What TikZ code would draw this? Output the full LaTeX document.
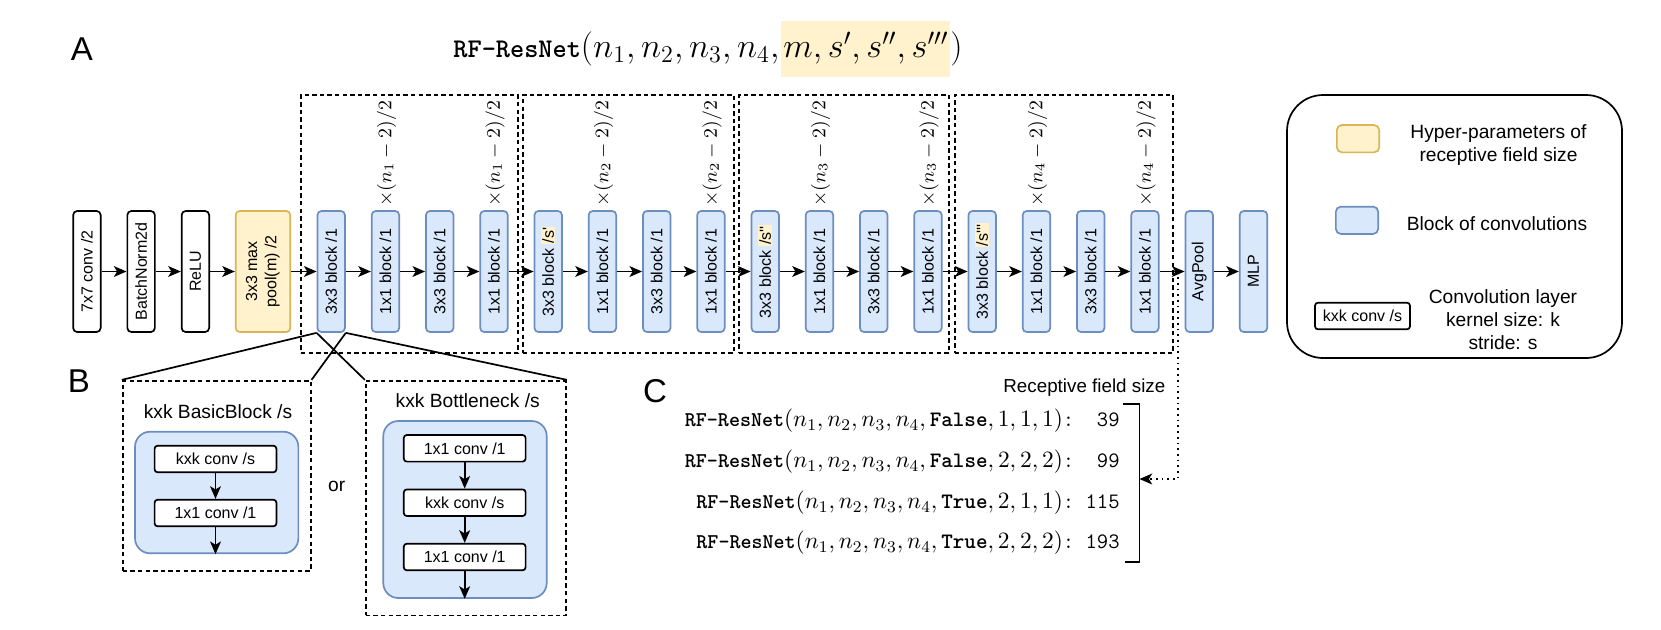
\RequirePackage{fix-cm}
\documentclass[tikz,border=0pt]{standalone}
\usepackage[no-math]{fontspec}
\setmainfont{Liberation Sans}
\usepackage{graphicx}
\usetikzlibrary{arrows.meta}
\definecolor{blueF}{HTML}{DAE8FC}
\definecolor{blueS}{HTML}{6C8EBF}
\definecolor{yelF}{HTML}{FFF2CC}
\definecolor{yelS}{HTML}{D6B656}
\newcommand{\vtext}[1]{\rotatebox{90}{#1}}
\newcommand{\hlq}[1]{{\setlength{\fboxsep}{0.6pt}\colorbox{yelF}{#1}}}
\newcommand{\hlT}[1]{{\setlength{\fboxsep}{1pt}\colorbox{yelF}{$\rule[-0.5em]{0pt}{1.5em}#1$}}}
\newcommand{\sq}{\textquotesingle}
\newcommand{\rfnet}{{\fontsize{10.5}{12}\selectfont\ttfamily\bfseries RF-ResNet}}
\newcommand{\ttb}[1]{\mbox{\fontsize{11}{13}\selectfont\ttfamily\bfseries #1}}
\newcommand{\ttv}[1]{{\fontsize{11}{13}\selectfont\ttfamily #1}}
\begin{document}
\begin{tikzpicture}[x=0.5pt,y=-0.5pt,
  lw/.style={line width=0.85pt},
  blk/.style={lw, draw=blueS, fill=blueF, rounded corners=2pt, minimum width=13.75pt, minimum height=60.5pt, inner sep=0pt, font=\fontsize{8}{9.6}\selectfont},
  wblk/.style={blk, draw=black, fill=white},
  yblk/.style={blk, draw=yelS, fill=yelF, minimum width=27.3pt},
  grp/.style={draw, lw, dash pattern=on 2.2pt off 1.6pt, minimum height=129pt, inner sep=0pt},
  arr/.style={lw, -{Stealth[length=6.3pt,width=5.4pt,inset=1.6pt]}},
  rep/.style={rotate=90, anchor=west, inner sep=0pt, font=\fontsize{9.6}{11}\selectfont},
  conv/.style={draw, fill=white, lw, rounded corners=1.5pt, minimum width=60.9pt, minimum height=13.3pt, inner sep=0pt, font=\fontsize{8}{9.6}\selectfont},
  bbg/.style={draw=blueS, fill=blueF, lw, rounded corners=7.5pt, inner sep=0pt},
  pan/.style={draw, lw, dash pattern=on 2.2pt off 1.6pt, inner sep=0pt},
  lbl/.style={font=\fontsize{16.5}{19}\selectfont, inner sep=0pt},
  txt/.style={font=\fontsize{9.6}{11.5}\selectfont, align=center, inner sep=0pt},
  crow/.style={anchor=east, inner sep=0pt, font=\fontsize{11.7}{14}\selectfont}
]
\useasboundingbox (0,0) rectangle (1661,629);

% labels
\node[lbl] (A) at (82,49) {A};
\node[lbl] (B) at (79,381) {B};
\node[lbl] (C) at (655,391) {C};

% title
\node[inner sep=0pt] (title) at (708,49) {{\fontsize{13.5}{15}\selectfont\ttfamily\bfseries RF-ResNet}{\fontsize{17.2}{20}\selectfont$(n_1,n_2,n_3,n_4,$\kern1pt\hlT{m,s',s'',s'''}$)$}};

% group boxes
\node[grp, minimum width=108.5pt] (g1) at (409.5,224) {};
\node[grp, minimum width=105.5pt] (g2) at (628.5,224) {};
\node[grp, minimum width=105pt] (g3) at (844,224) {};
\node[grp, minimum width=109pt] (g4) at (1064,224) {};

% chain
\node[wblk] (c7) at (86.9,271.5) {\vtext{7x7 conv /2}};
\node[wblk] (bn) at (141.1,271.5) {\vtext{BatchNorm2d}};
\node[wblk] (relu) at (195.4,271.5) {\vtext{ReLU}};
\node[yblk] (pool) at (263,271.5) {\vtext{\begin{tabular}{@{}c@{}}3x3 max\\pool(m) /2\end{tabular}}};

\node[blk] (b0) at (331.2,271.5) {\vtext{3x3 block /1}};
\node[blk] (b1) at (385.45,271.5) {\vtext{1x1 block /1}};
\node[blk] (b2) at (439.7,271.5) {\vtext{3x3 block /1}};
\node[blk] (b3) at (493.95,271.5) {\vtext{1x1 block /1}};
\node[blk] (b4) at (548.2,271.5) {\vtext{3x3 block \hlq{/s\sq}}};
\node[blk] (b5) at (602.45,271.5) {\vtext{1x1 block /1}};
\node[blk] (b6) at (656.7,271.5) {\vtext{3x3 block /1}};
\node[blk] (b7) at (710.95,271.5) {\vtext{1x1 block /1}};
\node[blk] (b8) at (765.2,271.5) {\vtext{3x3 block \hlq{/s\sq\sq}}};
\node[blk] (b9) at (819.45,271.5) {\vtext{1x1 block /1}};
\node[blk] (b10) at (873.7,271.5) {\vtext{3x3 block /1}};
\node[blk] (b11) at (927.95,271.5) {\vtext{1x1 block /1}};
\node[blk] (b12) at (982.2,271.5) {\vtext{3x3 block \hlq{/s\sq\sq\sq}}};
\node[blk] (b13) at (1036.45,271.5) {\vtext{1x1 block /1}};
\node[blk] (b14) at (1090.7,271.5) {\vtext{3x3 block /1}};
\node[blk] (b15) at (1144.95,271.5) {\vtext{1x1 block /1}};
\node[blk] (avg) at (1199.2,271.5) {\vtext{AvgPool}};
\node[blk] (mlp) at (1253.45,271.5) {\vtext{MLP}};

\foreach \a/\b in {c7/bn,bn/relu,relu/pool,pool/b0,b0/b1,b1/b2,b2/b3,b3/b4,b4/b5,b5/b6,b6/b7,b7/b8,b8/b9,b9/b10,b10/b11,b11/b12,b12/b13,b13/b14,b14/b15,b15/avg,avg/mlp}
  \draw[arr] (\a) -- (\b);

% repetition labels
\node[rep] (l1) at (386.5,207) {$\times(n_1-2)/2$};
\node[rep] (l2) at (495,207) {$\times(n_1-2)/2$};
\node[rep] (l3) at (603.5,207) {$\times(n_2-2)/2$};
\node[rep] (l4) at (712,207) {$\times(n_2-2)/2$};
\node[rep] (l5) at (820.5,207) {$\times(n_3-2)/2$};
\node[rep] (l6) at (929,207) {$\times(n_3-2)/2$};
\node[rep] (l7) at (1037.5,207) {$\times(n_4-2)/2$};
\node[rep] (l8) at (1146,207) {$\times(n_4-2)/2$};

% legend
\node[draw, lw, rounded corners=18pt, minimum width=167.5pt, minimum height=131.5pt, inner sep=0pt] (leg) at (1454.5,226.5) {};
\node[draw=yelS, fill=yelF, lw, rounded corners=2.5pt, minimum width=21.15pt, minimum height=13.65pt, inner sep=0pt] (swy) at (1358,138.7) {};
\node[draw=blueS, fill=blueF, lw, rounded corners=2.5pt, minimum width=21.15pt, minimum height=13.65pt, inner sep=0pt] (swb) at (1357,220.3) {};
\node[conv, minimum width=47.5pt] (swc) at (1362.5,316) {kxk conv /s};
\node[txt] (ty) at (1498.5,144.7) {Hyper-parameters of\\receptive field size};
\node[txt] (tb) at (1497,224) {Block of convolutions};
\node[txt] (tc) at (1503,319.5) {Convolution layer\\kernel size: k\\stride: s};

% panel B
\node[pan, minimum width=94pt, minimum height=95pt] (basic) at (216.7,475.7) {};
\node[pan, minimum width=100.15pt, minimum height=117.35pt] (bneck) at (465.9,498.05) {};
\draw[lw] (b0.south west) -- (basic.north west);
\draw[lw] (b0.south east) -- (basic.north east);
\draw[lw] (b0.south west) -- (bneck.north west);
\draw[lw] (b0.south east) -- (bneck.north east);
\node[txt] (tbasic) at (218,412) {kxk BasicBlock /s};
\node[txt] (tbneck) at (467.7,401) {kxk Bottleneck /s};
\node[bbg, minimum width=81.65pt, minimum height=60.8pt] (bgA) at (216.7,492.5) {};
\node[bbg, minimum width=81.7pt, minimum height=88.5pt] (bgB) at (465,509.5) {};
\node[conv] (a1) at (215.5,459) {kxk conv /s};
\node[conv] (a2) at (215.5,513) {1x1 conv /1};
\node[conv] (p1) at (464.7,448.3) {1x1 conv /1};
\node[conv] (p2) at (464.7,502.7) {kxk conv /s};
\node[conv] (p3) at (464.7,557) {1x1 conv /1};
\draw[arr] (a1) -- (a2);
\draw[arr] (a2.south) -- (a2.south |- bgA.south);
\draw[arr] (p1) -- (p2);
\draw[arr] (p2) -- (p3);
\draw[arr] (p3.south) -- (p3.south |- bgB.south);
\node[txt] (or) at (336.7,486.7) {or};

% panel C
\node[anchor=west, inner sep=0pt, font=\fontsize{9.4}{11}\selectfont] (rfs) at (1003,388) {Receptive field size};
\node[crow] (r1) at (1120,421) {\rfnet$(n_1,n_2,n_3,n_4,\ttb{False},1,1,1)$\ttv{:\ \ 39}};
\node[crow] (r2) at (1120,462) {\rfnet$(n_1,n_2,n_3,n_4,\ttb{False},2,2,2)$\ttv{:\ \ 99}};
\node[crow] (r3) at (1120,503) {\rfnet$(n_1,n_2,n_3,n_4,\ttb{True},2,1,1)$\ttv{:\ 115}};
\node[crow] (r4) at (1120,543) {\rfnet$(n_1,n_2,n_3,n_4,\ttb{True},2,2,2)$\ttv{:\ 193}};
\draw[lw] (1123,404) -- (1139.5,404) -- (1139.5,562) -- (1125,562);
\coordinate (tap) at (1178,271.5);
\coordinate (brk) at (1139.5,479);
\draw[arr, dotted] (tap) |- (brk);
\end{tikzpicture}
\end{document}
